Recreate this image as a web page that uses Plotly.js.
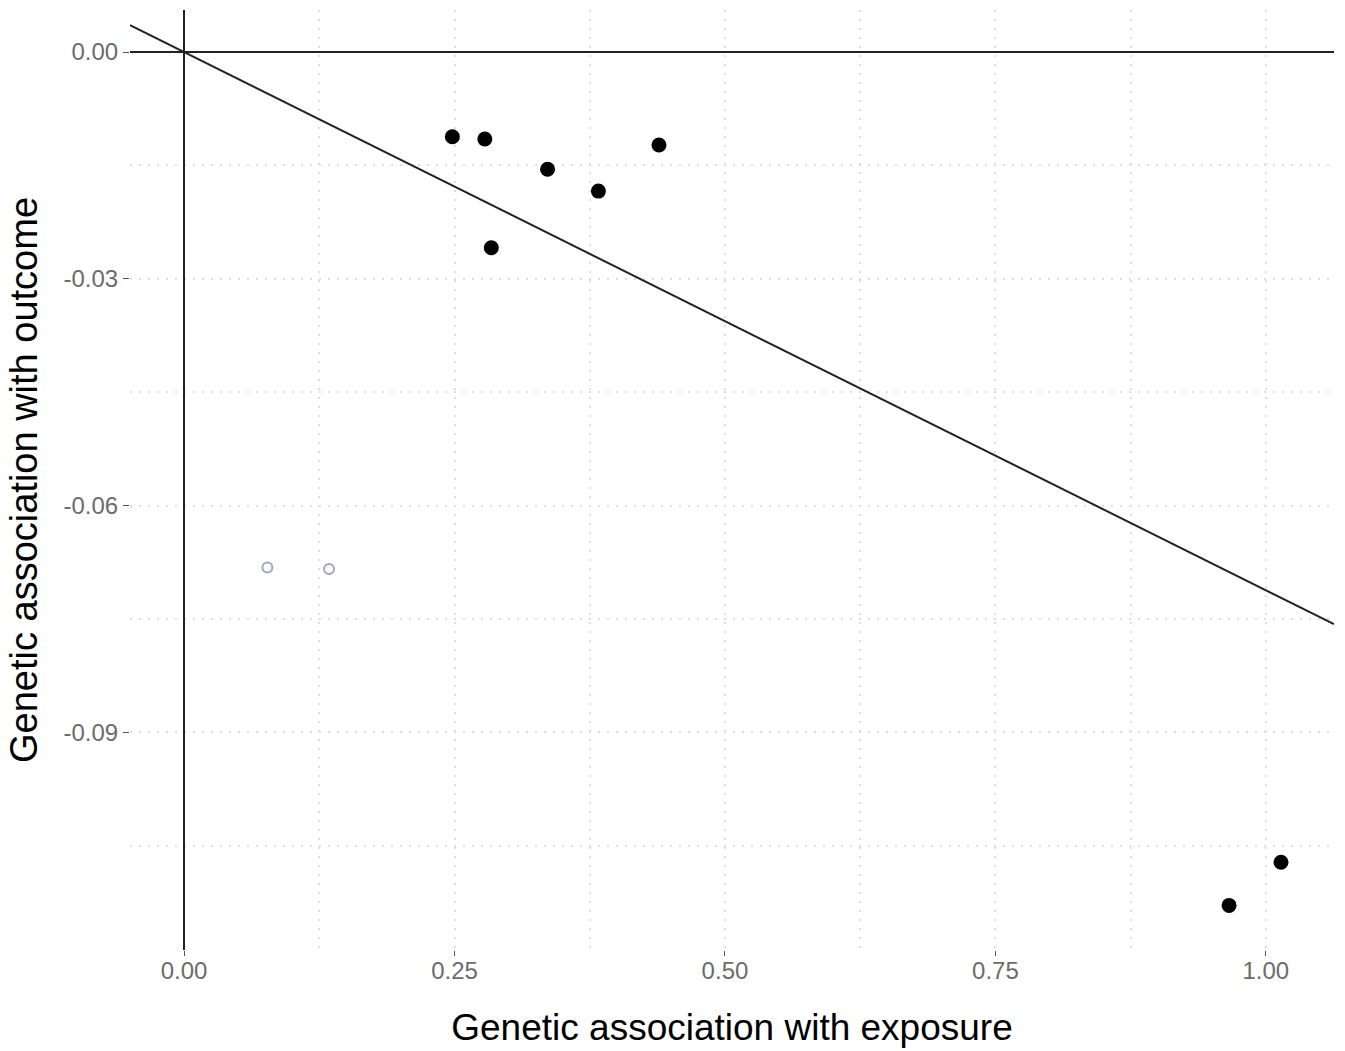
<!DOCTYPE html>
<html>
<head>
<meta charset="utf-8">
<script src="https://cdn.plot.ly/plotly-3.0.1.min.js"></script>
<style>html,body{margin:0;padding:0;background:#fff;}#chart{width:1345px;height:1051px;}</style>
</head>
<body>
<div id="chart"></div>
<script>
// Included variants (filled points)
const exposureIncluded = [0.248, 0.278, 0.284, 0.336, 0.383, 0.439, 0.966, 1.014];
const outcomeIncluded  = [-0.0112, -0.0115, -0.0259, -0.0155, -0.0184, -0.0123, -0.1129, -0.1072];
// Excluded variants (open points)
const exposureExcluded = [0.077, 0.134];
const outcomeExcluded  = [-0.0682, -0.0684];
// IVW slope estimate (line through origin)
const ivwSlope = -0.0712;
const lineX = [-0.05, 1.063];

const xTickVals = [0, 0.25, 0.5, 0.75, 1.0];
const xTickText = ["0.00", "0.25", "0.50", "0.75", "1.00"];
const yTickVals = [0, -0.03, -0.06, -0.09];
const yTickText = ["0.00", "-0.03", "-0.06", "-0.09"];

const traces = [
  {
    x: lineX, y: lineX.map(v => v * ivwSlope),
    mode: 'lines', type: 'scatter',
    line: {color: '#222', width: 2},
    hoverinfo: 'skip', showlegend: false
  },
  {
    x: exposureExcluded, y: outcomeExcluded,
    mode: 'markers', type: 'scatter',
    marker: {symbol: 'circle-open', size: 10, color: '#a4a4c0', line: {width: 2, color: '#a4a4c0'}},
    showlegend: false
  },
  {
    x: exposureIncluded, y: outcomeIncluded,
    mode: 'markers', type: 'scatter',
    marker: {symbol: 'circle', size: 15, color: '#000'},
    showlegend: false
  }
];

const gridColor = '#dedede';
const gridDash = '2px,7px';
const layout = {
  width: 1345, height: 1051,
  margin: {l: 130, r: 11, t: 10, b: 101},
  paper_bgcolor: '#fff', plot_bgcolor: '#fff',
  font: {family: 'Liberation Sans, Arial, sans-serif'},
  showlegend: false,
  xaxis: {
    range: [-0.05, 1.063],
    tickvals: xTickVals, ticktext: xTickText,
    ticks: 'outside', ticklen: 5, tickcolor: '#555', tickwidth: 1,
    ticklabelstandoff: -6,
    tickfont: {size: 24, color: '#6b6b6b'},
    showgrid: true, gridcolor: gridColor, griddash: gridDash, gridwidth: 2,
    minor: {tickvals: [0.125, 0.375, 0.625, 0.875], showgrid: true, gridcolor: gridColor, griddash: gridDash, gridwidth: 2},
    zeroline: true, zerolinecolor: '#222', zerolinewidth: 2,
    showline: false,
    title: {text: 'Genetic association with exposure', font: {size: 37, color: '#000'}, standoff: 31}
  },
  yaxis: {
    range: [-0.1188, 0.00556],
    tickvals: yTickVals, ticktext: yTickText,
    ticks: 'outside', ticklen: 6, tickcolor: '#555', tickwidth: 1,
    tickfont: {size: 24, color: '#6b6b6b'},
    showgrid: true, gridcolor: gridColor, griddash: gridDash, gridwidth: 2,
    minor: {tickvals: [-0.015, -0.045, -0.075, -0.105], showgrid: true, gridcolor: gridColor, griddash: gridDash, gridwidth: 2},
    zeroline: true, zerolinecolor: '#222', zerolinewidth: 2,
    showline: false,
    title: {text: 'Genetic association with outcome', font: {size: 38, color: '#000'}, standoff: 14}
  }
};

Plotly.newPlot('chart', traces, layout, {displayModeBar: false, staticPlot: true});
</script>
</body>
</html>
